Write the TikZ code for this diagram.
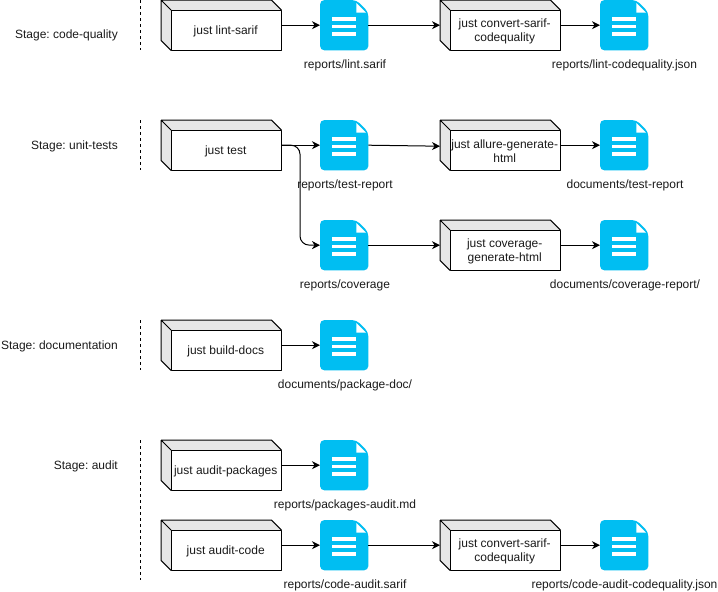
\documentclass[tikz,border=0pt]{standalone}
\usepackage{fontspec}
\setmainfont{Liberation Sans}
\frenchspacing
\usetikzlibrary{arrows.meta}
\definecolor{docblue}{HTML}{00BEF2}
\definecolor{cubeside}{HTML}{E6E6E6}
\definecolor{inktext}{HTML}{1A1A1A}
\tikzset{
  x=1pt,y=-1pt,
  every node/.style={font=\fontsize{12}{14}\selectfont,text=inktext,inner sep=0pt,align=center},
  cubebox/.style={minimum width=120pt,minimum height=50pt,anchor=north west},
  docbox/.style={minimum width=48pt,minimum height=50pt,anchor=north west},
  edge3d/.style={draw=black,line width=1pt,line join=round},
  flow/.style={draw=black,line width=1pt,-{Stealth[length=8pt,width=8pt,inset=2.5pt]}},
  stagedash/.style={draw=black,line width=1pt,dash pattern=on 3pt off 3pt},
}
\newcommand{\cubeat}[4]{% name, x, y, text
  \node[cubebox] (#1) at (#2,#3) {};
  \fill[cubeside] (#1.north west) -- ([xshift=-10pt]#1.north east) -- ([yshift=-10pt]#1.north east) -- ([xshift=10pt,yshift=-10pt]#1.north west) -- ([xshift=10pt]#1.south west) -- ([yshift=10pt]#1.south west) -- cycle;
  \draw[edge3d,fill=white] ([xshift=10pt,yshift=-10pt]#1.north west) rectangle (#1.south east);
  \draw[edge3d] (#1.north west) -- ([xshift=-10pt]#1.north east) -- ([yshift=-10pt]#1.north east) (#1.north west) -- ([yshift=10pt]#1.south west) -- ([xshift=10pt]#1.south west) (#1.north west) -- ([xshift=10pt,yshift=-10pt]#1.north west);
  \node (#1-t) at ([xshift=4.5pt,yshift=-6pt]#1.center) {#4};
}
\newcommand{\docat}[5]{% name, x, y, label, label x
  \node[docbox] (#1) at (#2,#3) {};
  \fill[docblue,rounded corners=4.5pt] (#1.south west) -- (#1.north west) -- ([xshift=-12pt]#1.north east) -- ([yshift=-12pt]#1.north east) -- (#1.south east) -- cycle;
  \fill[white] ([xshift=-12pt,yshift=-3pt]#1.north east) -- ([xshift=-12pt,yshift=-12.5pt]#1.north east) -- ([xshift=-2.5pt,yshift=-12.5pt]#1.north east) -- cycle;
  \fill[white] ([xshift=12pt,yshift=-17pt]#1.north west) rectangle ([xshift=36pt,yshift=-20.5pt]#1.north west);
  \fill[white] ([xshift=12pt,yshift=-24.8pt]#1.north west) rectangle ([xshift=36pt,yshift=-28.3pt]#1.north west);
  \fill[white] ([xshift=12pt,yshift=-32.4pt]#1.north west) rectangle ([xshift=36pt,yshift=-35.9pt]#1.north west);
  \node (#1-l) at (#5,#3+65) {#4};
}
\begin{document}
\begin{tikzpicture}
\useasboundingbox (0,0) rectangle (718,592);
% stage separators
\coordinate (d1a) at (140,0);   \coordinate (d1b) at (140,50);
\coordinate (d2a) at (140,120); \coordinate (d2b) at (140,170);
\coordinate (d3a) at (140,320); \coordinate (d3b) at (140,370);
\coordinate (d4a) at (140,440); \coordinate (d4b) at (140,580);
\draw[stagedash] (d1a) -- (d1b);
\draw[stagedash] (d2a) -- (d2b);
\draw[stagedash] (d3a) -- (d3b);
\draw[stagedash] (d4a) -- (d4b);
\node[anchor=east] (s1) at (118,35.5) {Stage: code-quality};
\node[anchor=east] (s2) at (118,146) {Stage: unit-tests};
\node[anchor=east] (s3) at (118,346) {Stage: documentation};
\node[anchor=east] (s4) at (118,466) {Stage: audit};
% row 1
\cubeat{c1}{161}{0}{just lint-sarif}
\docat{d1}{320}{0}{reports/lint.sarif}{345}
\cubeat{c2}{440}{0}{just convert-sarif-\\codequality}
\docat{d2}{600}{0}{reports/lint-codequality.json}{624.5}
% row 2
\cubeat{c3}{161}{120}{just test}
\docat{d3}{320}{120}{reports/test-report}{345}
\cubeat{c4}{440}{120}{just allure-generate-\\html}
\docat{d4}{600}{120}{documents/test-report}{625}
% row 3
\docat{d5}{320}{220}{reports/coverage}{345}
\cubeat{c5}{440}{220}{just coverage-\\generate-html}
\docat{d6}{600}{220}{documents/coverage-report/}{625}
% row 4
\cubeat{c6}{161}{320}{just build-docs}
\docat{d7}{320}{320}{documents/package-doc/}{345}
% row 5
\cubeat{c7}{161}{440}{just audit-packages}
\docat{d8}{320}{440}{reports/packages-audit.md}{345}
% row 6
\cubeat{c8}{161}{520}{just audit-code}
\docat{d9}{320}{520}{reports/code-audit.sarif}{345}
\cubeat{c9}{440}{520}{just convert-sarif-\\codequality}
\docat{d10}{600}{520}{reports/code-audit-codequality.json}{624.5}
% connectors
\draw[flow] (c1.east) -- (d1.west);
\draw[flow] (d1.east) -- (c2.west);
\draw[flow] (c2.east) -- (d2.west);
\draw[flow] (c3.east) -- (d3.west);
\draw[flow] (d3.east) -- ([yshift=-1pt]c4.west);
\draw[flow] (c4.east) -- (d4.west);
\draw[flow,rounded corners=9pt] (c3.east) -| (300,245) -- (d5.west);
\draw[flow] (d5.east) -- (c5.west);
\draw[flow] (c5.east) -- (d6.west);
\draw[flow] (c6.east) -- (d7.west);
\draw[flow] (c7.east) -- (d8.west);
\draw[flow] (c8.east) -- (d9.west);
\draw[flow] (d9.east) -- (c9.west);
\draw[flow] (c9.east) -- (d10.west);
\end{tikzpicture}
\end{document}
